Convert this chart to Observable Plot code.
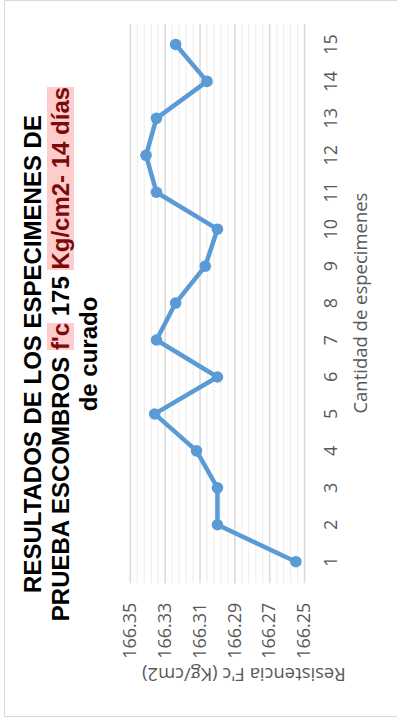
<!DOCTYPE html>
<html>
<head>
<meta charset="utf-8">
<script src="https://cdn.jsdelivr.net/npm/d3@7"></script>
<script src="https://cdn.jsdelivr.net/npm/@observablehq/plot@0.6"></script>
<style>
  html, body { margin: 0; padding: 0; background: #fff; overflow: hidden; }
  #chart {
    position: absolute; left: 0; top: 0;
    width: 717px; height: 400px;
    box-sizing: border-box;
    border: 1px solid #d9d9d9;
    background: #fff;
    transform-origin: 0 0;
    transform: translate(4px, 717px) rotate(-90deg);
  }
  #title {
    position: absolute; left: 0; top: 14px; width: 724px;
    text-align: center;
    font-family: "Liberation Sans", Arial, sans-serif;
    font-weight: bold; font-size: 24px; line-height: 28px;
    color: #000;
  }
  #title .hl { background: #ffcccc; color: #7a0a0a; }
  #plot { position: absolute; left: -1px; top: -1px; }
</style>
</head>
<body>
<div id="chart">
  <div id="plot"></div>
  <div id="title">
    <div>RESULTADOS DE LOS ESPECIMENES DE</div>
    <div>PRUEBA ESCOMBROS <span class="hl">f'c</span> 175 <span class="hl">Kg/cm2- 14 días</span></div>
    <div>de curado</div>
  </div>
</div>
<script>
// Specimen numbers and their compressive strength at 14 days
const especimenes = [1, 2, 3, 4, 5, 6, 7, 8, 9, 10, 11, 12, 13, 14, 15];
const resistencia = [166.255, 166.300, 166.300, 166.312, 166.336, 166.300, 166.335,
                     166.324, 166.307, 166.300, 166.335, 166.341, 166.335, 166.306, 166.324];

// Value axis: labelled ticks and the lighter minor grid between them
const ticksMayores = [166.25, 166.27, 166.29, 166.31, 166.33, 166.35];
const ticksMenores = [166.254, 166.258, 166.262, 166.266,
                      166.274, 166.278, 166.282, 166.286,
                      166.294, 166.298, 166.302, 166.306,
                      166.314, 166.318, 166.322, 166.326,
                      166.334, 166.338, 166.342, 166.346];

const tituloX = "Cantidad de especimenes";
const tituloY = "Resistencia F'c (Kg/cm2)";

const datos = especimenes.map((n, i) => ({n, r: resistencia[i]}));

const grafico = Plot.plot({
  width: 717,
  height: 400,
  marginLeft: 134,
  marginRight: 23,
  marginTop: 126,
  marginBottom: 99.5,
  style: {fontFamily: "'Open Sans', sans-serif", fontSize: "18px", color: "#595959", background: "transparent"},
  x: {type: "point", domain: especimenes, padding: 0.5, label: null, tickSize: 0, tickPadding: 20},
  y: {domain: [166.25, 166.35], ticks: ticksMayores, tickFormat: ".2f", label: null, tickSize: 0, tickPadding: 20},
  marks: [
    Plot.ruleY(ticksMenores, {stroke: "#efefef", strokeWidth: 1.2}),
    Plot.ruleY(ticksMayores, {stroke: "#d9d9d9", strokeWidth: 1.5}),
    Plot.line(datos, {x: "n", y: "r", stroke: "#5b9bd5", strokeWidth: 4.5, strokeLinejoin: "round"}),
    Plot.dot(datos, {x: "n", y: "r", fill: "#5b9bd5", r: 5.8}),
    Plot.text([tituloX], {frameAnchor: "bottom", text: d => d, textAnchor: "middle", lineAnchor: "middle",
                          dy: 57, fill: "#595959", fontSize: 18.5}),
    Plot.text([tituloY], {frameAnchor: "left", text: d => d, textAnchor: "middle", lineAnchor: "middle",
                          rotate: -90, dx: -91, dy: 26.5, fill: "#595959", fontSize: 18.5})
  ]
});
document.getElementById("plot").appendChild(grafico);
</script>
</body>
</html>
